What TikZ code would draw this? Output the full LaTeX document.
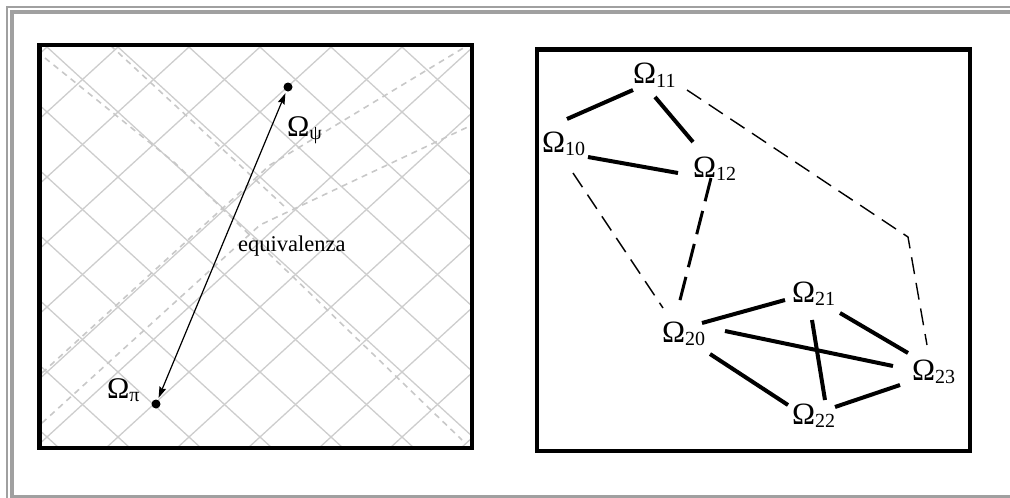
\documentclass[tikz,border=0pt]{standalone}
\usepackage{fontspec}
\setmainfont{Liberation Serif}
\usetikzlibrary{arrows.meta}
\definecolor{framegray}{RGB}{160,160,160}
\definecolor{gridgray}{RGB}{205,205,205}
\definecolor{dashgray}{RGB}{200,200,200}
\newcommand{\Om}[3]{{\fontsize{#1}{#1}\selectfont Ω}\raisebox{-3.5pt}{\fontsize{#2}{#2}\selectfont #3}}
\tikzset{
  frameline/.style={draw=framegray},
  panel/.style={draw=black, line width=4.5},
  gridline/.style={draw=gridgray, line width=1.3},
  griddash/.style={draw=dashgray, line width=1.6, dash pattern=on 6 off 5},
  lbl/.style={inner sep=0pt, anchor=base west},
  dotnode/.style={circle, fill=black, inner sep=0pt, minimum size=9},
  strong/.style={line width=4, line cap=butt},
  weak/.style={line width=1.4, dash pattern=on 17 off 9},
  medium/.style={line width=3, dash pattern=on 24 off 10},
}
\begin{document}
\begin{tikzpicture}[x=1pt,y=-1pt]
\useasboundingbox (0,0) rectangle (1010,498);
% outer frame
\draw[frameline, line width=1.8] (7,498) -- (7,6.7) -- (1010,6.7);
\draw[frameline, line width=4] (11.7,496) -- (11.7,11.7) -- (1010,11.7);
\draw[frameline, line width=2.5] (10,496.3) -- (1010,496.3);
% left panel grid
\begin{scope}
\clip (41.5,47) rectangle (470,446);
\foreach \m in {-7,...,7}
  \draw[gridline] ({47+71*\m-100},{47-100*0.9155}) -- ({47+71*\m+500},{47+500*0.9155});
\foreach \m in {-1,...,13}
  \draw[gridline] ({47+71*\m+100},{47-100*0.9155}) -- ({47+71*\m-500},{47+500*0.9155});
\draw[griddash] (45,58) -- (175,163) -- (462,440);
\draw[griddash] (110,45) -- (285,207);
\draw[griddash] (42,373) -- (270,165) -- (465,47);
\draw[griddash] (42,423) -- (260,225) -- (472,125);
\end{scope}
\draw[panel] (39.5,45) rectangle (472,448);
% left panel content
\node[dotnode] (sdot) at (288,87) {};
\node[dotnode] (pdot) at (156,404) {};
\node[lbl] (psi) at (287,136) {\Om{30}{20}{ψ}};
\node[lbl] (pi) at (107,398) {\Om{30}{20}{π}};
\draw[line width=1.2, {Stealth[length=11pt,width=7pt,inset=1.5pt]}-{Stealth[length=11pt,width=7pt,inset=1.5pt]}, shorten <=2, shorten >=2] (sdot) -- (pdot);
\node[lbl] (eq) at (238,251.5) {\fontsize{22.5}{22.5}\selectfont equivalenza};
% right panel
\draw[panel] (537,49.5) rectangle (970,451);
\node[lbl] (n11) at (633,83.5) {\Om{31}{20}{11}};
\node[lbl] (n10) at (542,152) {\Om{31}{20}{10}};
\node[lbl] (n12) at (693,177) {\Om{31}{20}{12}};
\node[lbl] (n21) at (792,302) {\Om{31}{20}{21}};
\node[lbl] (n20) at (662,342) {\Om{31}{20}{20}};
\node[lbl] (n23) at (912,380) {\Om{31}{20}{23}};
\node[lbl] (n22) at (792,424) {\Om{31}{20}{22}};
\coordinate (bend) at (908,237);
% upper group
\draw[strong] ([shift={(25,-33)}]n10.base west) -- ([shift={(0,6.5)}]n11.base west);
\draw[strong] ([shift={(22,13.5)}]n11.base west) -- ([shift={(0,-35)}]n12.base west);
\draw[strong] ([shift={(46,5)}]n10.base west) -- ([shift={(-15,-4)}]n12.base west);
% dashed links
\draw[weak] ([shift={(31,21)}]n10.base west) -- ([shift={(1,-34)}]n20.base west);
\draw[medium] ([shift={(18,1)}]n12.base west) -- ([shift={(16,-34)}]n20.base west);
\draw[weak] ([shift={(54,6.5)}]n11.base west) -- (bend) -- ([shift={(15,-35)}]n23.base west);
% lower group
\draw[strong] ([shift={(40,-19)}]n20.base west) -- ([shift={(-7,-2)}]n21.base west);
\draw[strong] ([shift={(63,-11)}]n20.base west) -- ([shift={(-19,-14)}]n23.base west);
\draw[strong] ([shift={(20,18)}]n21.base west) -- ([shift={(33,-24)}]n22.base west);
\draw[strong] ([shift={(48,11)}]n21.base west) -- ([shift={(-4,-27)}]n23.base west);
\draw[strong] ([shift={(48,12)}]n20.base west) -- ([shift={(-4,-19)}]n22.base west);
\draw[strong] ([shift={(43,-17)}]n22.base west) -- ([shift={(-12,5)}]n23.base west);
\end{tikzpicture}
\end{document}
